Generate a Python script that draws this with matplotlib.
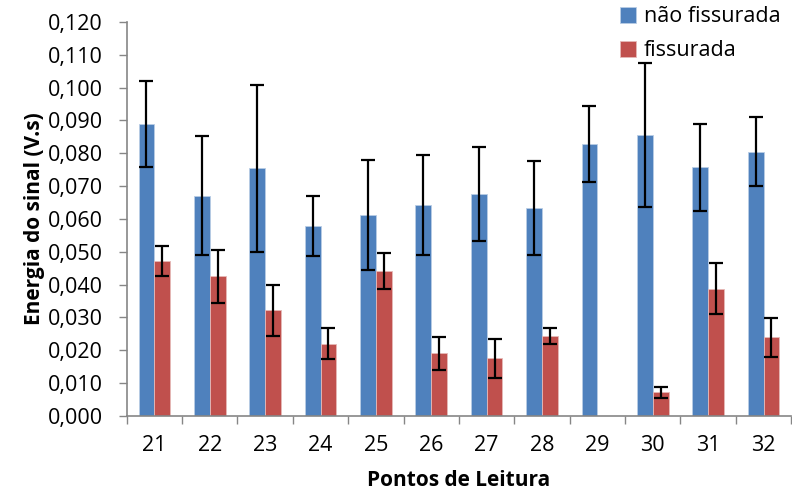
import matplotlib.pyplot as plt
import numpy as np
from matplotlib.ticker import FuncFormatter, MultipleLocator

plt.rcParams['font.family'] = ['Open Sans', 'DejaVu Sans']

pontos = ["21", "22", "23", "24", "25", "26", "27", "28", "29", "30", "31", "32"]
nao_fiss = [0.0888, 0.0671, 0.0754, 0.0579, 0.0612, 0.0642, 0.0676, 0.0632, 0.0828, 0.0855, 0.0757, 0.0804]
nao_fiss_err = [0.0131, 0.0180, 0.0255, 0.0092, 0.0167, 0.0152, 0.0144, 0.0143, 0.0116, 0.0219, 0.0133, 0.0105]
fiss = [0.0472, 0.0425, 0.0322, 0.0220, 0.0441, 0.0191, 0.0176, 0.0244, np.nan, 0.0072, 0.0388, 0.0239]
fiss_err = [0.0045, 0.0081, 0.0078, 0.0047, 0.0055, 0.0050, 0.0059, 0.0025, np.nan, 0.0017, 0.0077, 0.0060]

azul = "#4F81BD"
vermelho = "#C0504D"
cinza = "#868686"

fig = plt.figure(figsize=(7.92, 4.97), dpi=100)
ax = fig.add_axes([0.160, 0.163, 0.839, 0.793])

x = np.arange(len(pontos))
w = 0.2857

ax.bar(x - w/2, nao_fiss, w, color=azul, edgecolor="#B9CDE5", linewidth=0.6,
       label="não fissurada", zorder=2)
ax.bar(x + w/2, fiss, w, color=vermelho, edgecolor="#E6B9B8", linewidth=0.6,
       label="fissurada", zorder=2)
ax.errorbar(x - w/2, nao_fiss, yerr=nao_fiss_err, fmt="none", ecolor="black",
            elinewidth=1.6, capsize=5, capthick=1.6, zorder=3)
ax.errorbar(x + w/2, fiss, yerr=fiss_err, fmt="none", ecolor="black",
            elinewidth=1.6, capsize=5, capthick=1.6, zorder=3)

ax.set_xlim(-0.5, len(pontos) - 0.5)
ax.set_ylim(0, 0.120)
ax.yaxis.set_major_locator(MultipleLocator(0.010))
ax.yaxis.set_major_formatter(FuncFormatter(lambda v, p: f"{v:.3f}".replace(".", ",")))

ax.set_xticks(x)
ax.set_xticklabels(pontos)
ax.set_xticks(np.arange(-0.5, len(pontos)), minor=True)
ax.tick_params(axis="x", which="major", length=0, pad=14, labelsize=15.5)
ax.tick_params(axis="x", which="minor", length=6, color=cinza, width=1)
ax.tick_params(axis="y", length=6, color=cinza, width=1, labelsize=15.5, pad=11)

ax.spines[["right", "top"]].set_visible(False)
for s in ["left", "bottom"]:
    ax.spines[s].set_color(cinza)
    ax.spines[s].set_linewidth(1.2)

ax.set_ylabel("Energia do sinal (V.s)", fontsize=15, fontweight="bold", labelpad=2)
ax.set_xlabel("Pontos de Leitura", fontsize=15, fontweight="bold", labelpad=10)

fig.legend(loc="upper left", bbox_to_anchor=(0.783, 0.987), frameon=False,
           borderpad=0, borderaxespad=0,
           fontsize=15.5, handlelength=0.75, handleheight=0.75, handletextpad=0.35,
           labelspacing=0.6)

fig.savefig("out.png", dpi=100)
